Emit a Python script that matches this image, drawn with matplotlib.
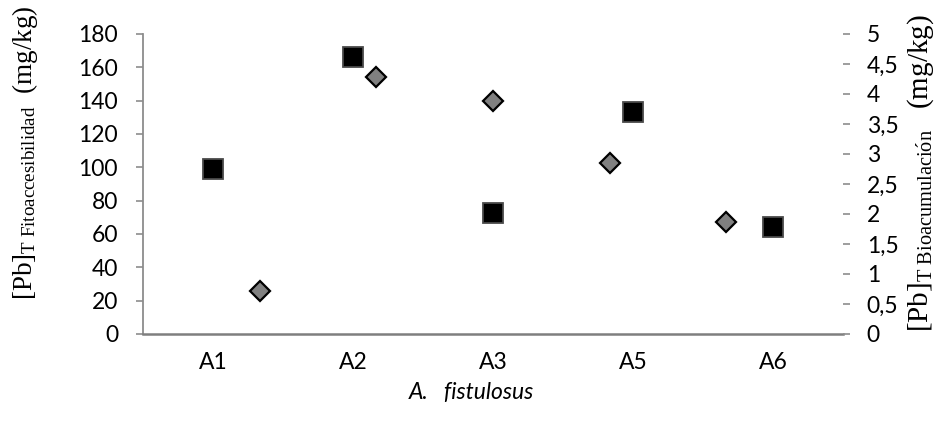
import matplotlib
matplotlib.use("Agg")
import matplotlib.pyplot as plt

categories = ["A1", "A2", "A3", "A5", "A6"]
fitoaccesibilidad = [99, 166, 72.5, 133.5, 64]      # left axis, squares
bioacumulacion = [0.72, 4.28, 3.88, 2.85, 1.87]     # right axis, diamonds
left_ticks = [0, 20, 40, 60, 80, 100, 120, 140, 160, 180]
right_ticks = [0, 0.5, 1, 1.5, 2, 2.5, 3, 3.5, 4, 4.5, 5]
right_ticklabels = ["0", "0,5", "1", "1,5", "2", "2,5", "3", "3,5", "4", "4,5", "5"]

plt.rcParams["mathtext.fontset"] = "custom"
plt.rcParams["mathtext.rm"] = "Liberation Serif"
plt.rcParams["mathtext.it"] = "Liberation Serif:italic"

W, H = 938, 430
fig = plt.figure(figsize=(W / 100, H / 100), dpi=100)
pos = [143 / W, (H - 334) / H, 700 / W, 300 / H]
ax = fig.add_axes(pos)
ax2 = fig.add_axes(pos, frameon=False)

spine_c = "#8c8c8c"
tick_font = dict(family="Lato", size=16.5, color="black")

# main axis (squares)
xs = list(range(1, len(categories) + 1))
ax.plot(xs, fitoaccesibilidad, linestyle="none", marker="s", markersize=14,
        markerfacecolor="black", markeredgecolor="#4a4a4a", markeredgewidth=1.3, zorder=3)
ax.set_xlim(0.5, len(categories) + 0.5)
ax.set_ylim(0, 180)
ax.set_yticks(left_ticks)
ax.set_yticklabels([str(t) for t in left_ticks], **tick_font)
ax.set_xticks(xs)
ax.set_xticklabels(categories, **tick_font)
ax.tick_params(axis="y", direction="out", length=5, width=1.2, color=spine_c, pad=13)
ax.tick_params(axis="x", length=0, pad=13)
for s in ["top", "right"]:
    ax.spines[s].set_visible(False)
ax.spines["left"].set_color(spine_c)
ax.spines["left"].set_linewidth(1.3)
ax.spines["bottom"].set_color("#7f7f7f")
ax.spines["bottom"].set_linewidth(1.8)

# secondary axis (diamonds)
xs2 = list(range(1, len(categories) + 1))
ax2.plot(xs2, bioacumulacion, linestyle="none", marker="D", markersize=10,
         markerfacecolor="#808080", markeredgecolor="black", markeredgewidth=1.6, zorder=4)
ax2.set_xlim(0, len(categories) + 1)
ax2.set_ylim(0, 5)
ax2.xaxis.set_visible(False)
ax2.yaxis.tick_right()
ax2.set_yticks(right_ticks)
ax2.set_yticklabels(right_ticklabels, **tick_font)
ax2.tick_params(axis="y", direction="out", length=5, width=1.2, color=spine_c, pad=12)
ax2.spines["right"].set_visible(True)
ax2.spines["right"].set_color(spine_c)
ax2.spines["right"].set_linewidth(1.3)

# axis labels
fig.text(25 / W, 1 - 153 / H,
         r"$\mathrm{[Pb]_{T\ Fitoaccesibilidad}\ \ (mg/kg)}$",
         rotation=90, ha="center", va="center", fontsize=19.5)
fig.text(921 / W, 1 - 173 / H,
         r"$\mathrm{[Pb]_{T\ Bioacumulaci\acute{o}n}\ \ \ (mg/kg)}$",
         rotation=90, ha="center", va="center", fontsize=21)
fig.text(471 / W, 1 - 393 / H, "A.   fistulosus", ha="center", va="center",
         family="Lato", style="italic", fontsize=16.5)

fig.savefig("out.png", dpi=100)
